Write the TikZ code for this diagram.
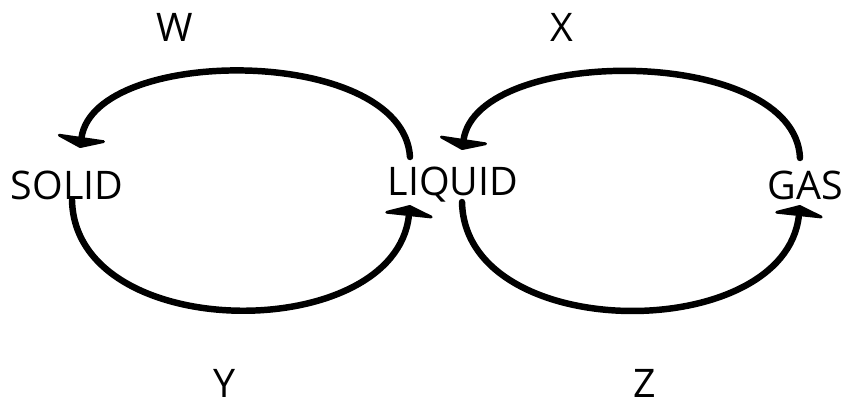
\documentclass[tikz,border=0pt]{standalone}
\usepackage{fontspec}
\setmainfont{Open Sans}
\usepackage{tikz}
\usetikzlibrary{calc,arrows.meta}

\begin{document}
\begin{tikzpicture}[
  x=0.025cm, y=-0.025cm,
  >={Triangle[length=2.8mm 0 0,width=15mm 0 0,round]},
  phase/.style={font=\fontsize{28}{32}\selectfont, inner sep=0pt},
  change/.style={font=\fontsize{28}{32}\selectfont, inner sep=0pt},
  cyclearrow/.style={->, line width=4.6pt, line cap=round},
]
\useasboundingbox (0,0) rectangle (846,409);

% --- phases -----------------------------------------------------------
\node[phase] (solid)  at (67,185)  {SOLID};
\node[phase] (liquid) at (453,185) {LIQUID};
\node[phase] (gas)    at (805,185) {GAS};

% --- labels -----------------------------------------------------------
\node[change] (W) at (175,27)  {W};
\node[change] (X) at (562,27)  {X};
\node[change] (Y) at (225,383) {Y};
\node[change] (Z) at (645,383) {Z};

% --- upper arcs ---------------------------------------------------------
\draw[cyclearrow]
  ($(liquid)+(-43,-28)$)
    .. controls ($(liquid)+(-50,-140)$)
    and        ($(solid)+(28,-140)$) ..
  ($(solid)+(13,-37)$);

\draw[cyclearrow]
  ($(gas)+(-5,-27)$)
    .. controls ($(gas)+(-10,-140)$)
    and        ($(liquid)+(25,-140)$) ..
  ($(liquid)+(9,-35)$);

% --- lower arcs ---------------------------------------------------------
\draw[cyclearrow]
  ($(solid)+(5,15)$)
    .. controls ($(solid)+(8,160)$)
    and        ($(liquid)+(-58,160)$) ..
  ($(liquid)+(-43,20)$);

\draw[cyclearrow]
  ($(liquid)+(9,17)$)
    .. controls ($(liquid)+(12,160)$)
    and        ($(gas)+(-20,160)$) ..
  ($(gas)+(-5,20)$);

\end{tikzpicture}
\end{document}
